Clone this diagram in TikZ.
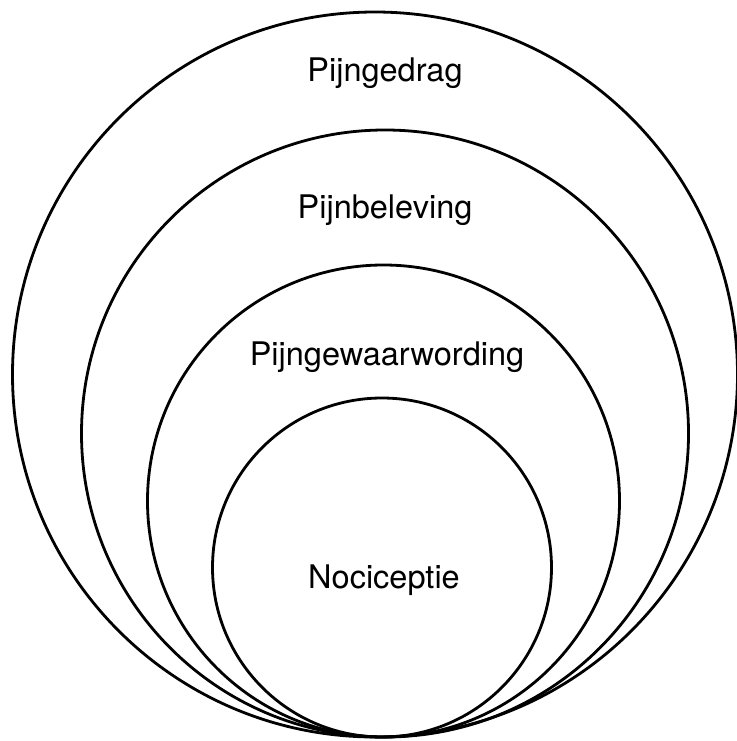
\documentclass[tikz,border=0pt]{standalone}
\usepackage{fontspec}
\setmainfont{TeX Gyre Heros}
\begin{document}
\begin{tikzpicture}[x=1pt, y=-1pt, ring/.style={line width=2.8pt}, lbl/.style={anchor=base, inner sep=0pt, font=\fontsize{32.5}{38}\selectfont}]
  \useasboundingbox (0,0) rectangle (736,741);

  % Centres
  \coordinate (Cg) at (375,374.5);
  \coordinate (Cb) at (385,433.5);
  \coordinate (Cw) at (383.5,501);
  \coordinate (Cn) at (382,567.5);

  % Circles
  \draw[ring] (Cg) circle (362.5);
  \draw[ring] (Cb) circle (303.5);
  \draw[ring] (Cw) circle (236);
  \draw[ring] (Cn) circle (169.5);

  % Labels
  \node[lbl] (gedrag) at (385,82) {Pijngedrag};
  \node[lbl] (beleving) at (385,218) {Pijnbeleving};
  \node[lbl] (gewaarwording) at (387,365) {Pijngewaarwording};
  \node[lbl] (nociceptie) at (384,588) {Nociceptie};
\end{tikzpicture}
\end{document}
